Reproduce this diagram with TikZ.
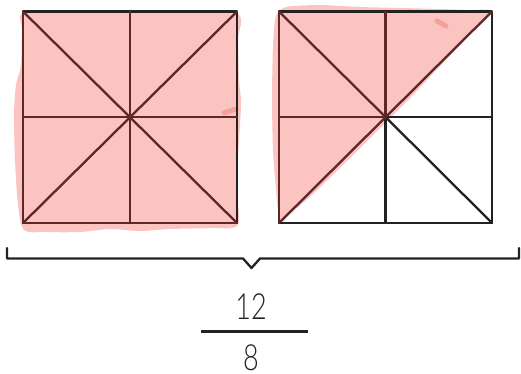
\documentclass[tikz,border=0pt]{standalone}
\usepackage{fontspec}
\setmainfont{Lato}
\newfontfamily\lightdigits{Lato Light}
\definecolor{pinkfill}{HTML}{FCC4C0}
\definecolor{pinkdark}{HTML}{F3A09A}
\definecolor{maroon}{HTML}{5E2828}
\definecolor{ink}{HTML}{222222}
\tikzset{
  edge/.style={line width=2.3pt, line cap=round, line join=round},
  blk/.style={edge, draw=ink},
  mar/.style={edge, draw=maroon},
  blob/.style={fill=pinkfill, draw=none},
  dab/.style={draw=pinkdark, line width=5pt, line cap=round},
  digit/.style={font=\lightdigits\fontsize{36}{36}\selectfont, text=ink, inner sep=0pt, xscale=0.75}
}
\begin{document}
\begin{tikzpicture}[x=1pt,y=-1pt]
\useasboundingbox (0,0) rectangle (521,374);
% ---- left square coordinates
\coordinate (LTL) at (23,11.5);
\coordinate (LTR) at (237,11.5);
\coordinate (LBL) at (23,223);
\coordinate (LBR) at (237,223);
\coordinate (LC) at (130,117);
\coordinate (LT) at (130,11.5);
\coordinate (LB) at (130,223);
\coordinate (LL) at (23,117);
\coordinate (LR) at (237,117);
% ---- right square coordinates
\coordinate (RTL) at (279,11.5);
\coordinate (RTR) at (492,11.5);
\coordinate (RBL) at (279,223);
\coordinate (RBR) at (492,223);
\coordinate (RC) at (385.5,117);
\coordinate (RT) at (385.5,11.5);
\coordinate (RB) at (385.5,223);
\coordinate (RL) at (279,117);
\coordinate (RR) at (492,117);
% ---- pink paint, left
\fill[blob] plot[smooth cycle, tension=0.5] coordinates {
  (24,12.5) (80,12.5) (150,12.5) (235,12.5) (238,40) (239,80) (241,100)
  (240,125) (238,160) (238,200) (237,226) (210,228) (170,229) (140,231)
  (110,229) (80,232) (45,232) (24,230) (18,205) (15,160) (14,115)
  (16,85) (21,65) (22,30)};
\draw[dab] (224,113) -- (236,109);
% ---- pink paint, right
\fill[blob] plot[smooth cycle, tension=0.4] coordinates {
  (280,222) (276,190) (273,150) (272,100) (273,45) (276,16) (286,7)
  (320,5) (360,7) (400,8) (440,9) (470,10) (491,11) (470,34) (440,66)
  (410,98) (386,122) (350,158) (315,192) (290,214)};
\draw[dab] (437,21) -- (446,26);
% ---- left square lines
\draw[blk] (LBR) -- (LTR) -- (LTL);
\draw[mar] (LTL) -- (LBL) -- (LBR);
\draw[mar] (LT) -- (LB);
\draw[mar] (LL) -- (LR);
\draw[mar] (LTL) -- (LBR);
\draw[mar] (LBL) -- (LTR);
% ---- right square lines
\draw[blk] (RTL) -- (RTR) -- (RBR) -- (RBL);
\draw[mar] (RBL) -- (RTL);
\draw[blk] (RC) -- (RB);
\draw[blk] (RC) -- (RR);
\draw[blk] (RC) -- (RBR);
\draw[mar] (RT) -- (RC);
\draw[mar] (RL) -- (RC);
\draw[mar] (RTL) -- (RC);
\draw[mar] (RBL) -- (RTR);
% ---- brace
\coordinate (BL) at (7,248);
\coordinate (BR) at (519,248);
\coordinate (BTip) at (251.5,268);
\draw[blk] (BL) -- (7,258.5) -- (243,258.5) -- (BTip) -- (260,258.5) -- (519,258.5) -- (BR);
% ---- fraction
\node[digit] (num) at (251,306.5) {12};
\coordinate (barL) at (201,331);
\coordinate (barR) at (308,331);
\draw[draw=ink, line width=3pt] (barL) -- (barR);
\node[digit] (den) at (251,357.5) {8};
\end{tikzpicture}
\end{document}
